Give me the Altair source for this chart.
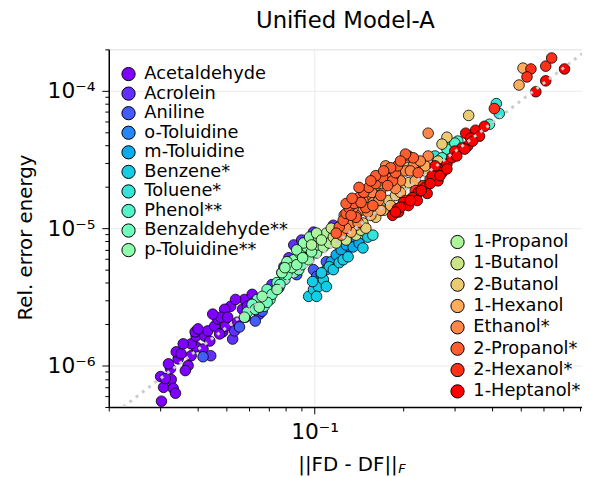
import altair as alt
import pandas as pd

# ---------------- categories / colours ----------------
molecules_left = ["Acetaldehyde", "Acrolein", "Aniline", "o-Toluidine", "m-Toluidine",
                  "Benzene*", "Toluene*", "Phenol**", "Benzaldehyde**", "p-Toluidine**"]
colors_left = ["#8000ff", "#622ffe", "#445cfb", "#2686f5", "#08acee",
               "#16cce4", "#34e4d9", "#52f5cb", "#70febc", "#8efeac"]
molecules_right = ["1-Propanol", "1-Butanol", "2-Butanol", "1-Hexanol",
                   "Ethanol*", "2-Propanol*", "2-Hexanol*", "1-Heptanol*"]
colors_right = ["#acf59a", "#cae486", "#e8cb72", "#ffac5c",
                "#ff8646", "#ff5c2f", "#ff2f18", "#ff0000"]

# ---------------- data ----------------
acetaldehyde_x = [0.0302, 0.0300, 0.0307, 0.0326, 0.0331, 0.0337, 0.0324, 0.0344, 0.0339, 0.0352, 0.0372, 0.0364, 0.0381, 0.0396, 0.0381, 0.0396, 0.0393, 0.0424, 0.0441, 0.0418, 0.0434, 0.0458, 0.0469, 0.0488, 0.0499, 0.0476, 0.0519, 0.0495, 0.0480, 0.0547, 0.0578, 0.0569, 0.0591, 0.0614, 0.0624, 0.0311, 0.0402, 0.0451, 0.0358, 0.0319, 0.0539, 0.0507]
acetaldehyde_y = [5.51e-7, 8.33e-7, 6.95e-7, 7.92e-7, 6.84e-7, 6.30e-7, 9.52e-7, 1.12e-6, 1.26e-6, 1.22e-6, 1.00e-6, 9.20e-7, 1.18e-6, 1.37e-6, 1.44e-6, 1.64e-6, 1.76e-6, 1.64e-6, 1.51e-6, 1.32e-6, 1.79e-6, 1.94e-6, 2.18e-6, 1.76e-6, 1.94e-6, 1.70e-6, 2.70e-6, 2.57e-6, 2.25e-6, 2.07e-6, 3.03e-6, 2.57e-6, 2.70e-6, 3.30e-6, 2.89e-6, 8.05e-7, 1.85e-6, 2.37e-6, 1.44e-6, 1.03e-6, 3.03e-6, 2.25e-6]

acrolein_x = [0.0444, 0.0527, 0.0535, 0.0582, 0.0649, 0.0690, 0.0717, 0.0775, 0.0787, 0.0818, 0.0850, 0.0870, 0.0962, 0.0992, 0.1158, 0.0904]
acrolein_y = [1.18e-6, 1.56e-6, 1.79e-6, 2.25e-6, 2.37e-6, 3.03e-6, 3.89e-6, 4.74e-6, 5.24e-6, 6.09e-6, 7.55e-6, 6.09e-6, 6.95e-6, 9.36e-6, 1.05e-5, 8.20e-6]

aniline_x = [0.0418, 0.0556, 0.0629, 0.0664, 0.0757, 0.0870, 0.0992, 0.1016, 0.1097, 0.1280]
aniline_y = [1.16e-6, 1.91e-6, 2.11e-6, 2.49e-6, 3.70e-6, 4.59e-6, 4.99e-6, 4.44e-6, 5.70e-6, 6.60e-6]

o_toluidine_x = [0.1232, 0.1280, 0.1331, 0.1383, 0.1185]
o_toluidine_y = [6.09e-6, 6.73e-6, 7.55e-6, 8.20e-6, 5.70e-6]

m_toluidine_x = [0.1055, 0.1097, 0.1140, 0.1185, 0.1232, 0.1280, 0.1352, 0.1416]
m_toluidine_y = [4.59e-6, 4.99e-6, 5.70e-6, 6.39e-6, 6.95e-6, 7.55e-6, 7.30e-6, 7.80e-6]

benzene_x = [0.0955, 0.0992, 0.1031, 0.1071, 0.1097, 0.1016, 0.1122, 0.1055, 0.1158, 0.1213, 0.1251, 0.1300, 0.0985, 0.1460, 0.1517]
benzene_y = [3.19e-6, 3.58e-6, 3.76e-6, 4.23e-6, 3.76e-6, 3.19e-6, 5.24e-6, 4.74e-6, 4.99e-6, 5.61e-6, 5.89e-6, 6.19e-6, 4.09e-6, 7.18e-6, 8.61e-6]

toluene_x = [0.4145, 0.4242, 0.1578, 0.2567, 0.2883]
toluene_y = [8.06e-5, 6.83e-5, 8.90e-6, 3.35e-5, 3.96e-5]

phenol_x = [0.3927, 0.3067, 0.2816, 0.2996, 0.2710]
phenol_y = [5.70e-5, 4.30e-5, 3.76e-5, 4.16e-5, 3.25e-5]

benzaldehyde_x = [0.0639, 0.0690, 0.0746, 0.0591, 0.0674, 0.0706, 0.0793, 0.0850, 0.0884, 0.0904, 0.0614, 0.0717, 0.0763, 0.0690, 0.0629, 0.0806]
benzaldehyde_y = [3.03e-6, 3.58e-6, 4.02e-6, 2.45e-6, 2.70e-6, 3.03e-6, 4.23e-6, 4.74e-6, 4.99e-6, 5.42e-6, 2.79e-6, 3.30e-6, 3.89e-6, 2.89e-6, 2.57e-6, 4.59e-6]

p_toluidine_x = [0.0578, 0.0649, 0.0664, 0.0775, 0.0824, 0.0850, 0.0890, 0.0940, 0.0992, 0.0746, 0.0955, 0.1016, 0.0917, 0.0962, 0.0806, 0.0870, 0.0837, 0.0870, 0.0911, 0.0977, 0.1031, 0.1080, 0.1140, 0.0793]
p_toluidine_y = [2.25e-6, 2.66e-6, 3.19e-6, 4.74e-6, 5.24e-6, 5.89e-6, 6.60e-6, 7.30e-6, 8.20e-6, 3.58e-6, 5.89e-6, 6.60e-6, 7.80e-6, 8.61e-6, 5.70e-6, 6.95e-6, 5.16e-6, 5.42e-6, 6.09e-6, 6.73e-6, 7.55e-6, 8.20e-6, 8.76e-6, 5.16e-6]

propanol1_x = [0.1031, 0.1097, 0.1158, 0.1213, 0.1016, 0.1071, 0.1122, 0.0977, 0.1055]
propanol1_y = [8.61e-6, 9.20e-6, 9.67e-6, 1.02e-5, 9.20e-6, 7.30e-6, 7.80e-6, 7.55e-6, 8.20e-6]

butanol1_x = [0.1158, 0.1232, 0.1280, 0.1185, 0.1331, 0.1383, 0.1261, 0.1438, 0.1140]
butanol1_y = [8.61e-6, 9.36e-6, 8.20e-6, 7.80e-6, 1.00e-5, 8.90e-6, 1.05e-5, 9.67e-6, 1.00e-5]

butanol2_x = [0.3338, 0.2816, 0.2710, 0.2627, 0.2067, 0.2233, 0.1717, 0.1785, 0.2083, 0.1614, 0.1460, 0.1884, 0.1494, 0.1958, 0.2376]
butanol2_y = [6.61e-5, 4.59e-5, 4.09e-5, 3.08e-5, 2.75e-5, 2.84e-5, 1.35e-5, 1.59e-5, 2.14e-5, 1.20e-5, 1.09e-5, 1.73e-5, 1.00e-5, 1.94e-5, 2.61e-5]

hexanol1_x = [0.5106, 0.4951, 0.1383, 0.1553, 0.1813, 0.1958, 0.2199, 0.2376, 0.1678, 0.1331]
hexanol1_y = [1.46e-4, 1.10e-4, 1.05e-5, 1.24e-5, 1.46e-5, 1.82e-5, 2.21e-5, 2.84e-5, 1.35e-5, 9.36e-6]

ethanol_x = [0.2432, 0.2432, 0.2165, 0.1785, 0.1678, 0.1553, 0.1438, 0.1331, 0.1744, 0.1958, 0.1232, 0.1494, 0.1614, 0.1383, 0.1855, 0.2036, 0.1280, 0.1261, 0.1352, 0.1460, 0.1565, 0.1691, 0.1813, 0.1652, 0.1517, 0.1405, 0.1884, 0.2116, 0.2286]
ethanol_y = [4.91e-5, 3.35e-5, 2.84e-5, 2.53e-5, 1.88e-5, 1.59e-5, 1.35e-5, 1.10e-5, 2.84e-5, 2.21e-5, 8.90e-6, 1.73e-5, 2.04e-5, 1.24e-5, 2.41e-5, 2.61e-5, 1.00e-5, 1.24e-5, 1.41e-5, 1.59e-5, 1.82e-5, 2.11e-5, 2.29e-5, 1.59e-5, 1.31e-5, 1.10e-5, 1.94e-5, 2.61e-5, 3.08e-5]

propanol2_x = [0.1213, 0.1251, 0.1280, 0.1310, 0.1362, 0.1416, 0.1471, 0.1529, 0.1614, 0.1704, 0.1841, 0.1884, 0.2083, 0.2165, 0.2250, 0.1383, 0.1494, 0.1578, 0.1185, 0.1438, 0.1331, 0.1678, 0.1771, 0.1914, 0.1614, 0.1280, 0.1416, 0.1553, 0.1813, 0.2036, 0.1958, 0.1717, 0.1341]
propanol2_y = [1.02e-5, 1.14e-5, 1.28e-5, 1.41e-5, 1.51e-5, 1.67e-5, 1.82e-5, 1.98e-5, 2.11e-5, 2.33e-5, 2.21e-5, 2.53e-5, 3.35e-5, 3.25e-5, 2.53e-5, 1.20e-5, 1.41e-5, 1.46e-5, 9.20e-6, 1.54e-5, 1.24e-5, 1.73e-5, 2.04e-5, 2.84e-5, 2.41e-5, 1.51e-5, 1.98e-5, 2.21e-5, 2.75e-5, 3.46e-5, 3.08e-5, 2.61e-5, 1.65e-5]

hexanol2_x = [0.5433, 0.5268, 0.6100, 0.6389, 0.4081, 0.2036, 0.2199, 0.2470, 0.2668, 0.2339]
hexanol2_y = [1.44e-4, 1.26e-4, 1.51e-4, 1.73e-4, 7.42e-5, 1.59e-5, 1.88e-5, 2.29e-5, 2.70e-5, 2.04e-5]

heptanol1_x = [0.7065, 0.6100, 0.5646, 0.3524, 0.3262, 0.3390, 0.3312, 0.3163, 0.2710, 0.2816, 0.2928, 0.2627, 0.2508, 0.2376, 0.2250, 0.2149, 0.2004, 0.1914, 0.1841, 0.2413, 0.2233, 0.2083, 0.1929, 0.2996, 0.3635, 0.3778, 0.1958, 0.2116, 0.2304, 0.2470, 0.2668, 0.2816, 0.3042, 0.3237, 0.3443, 0.1884, 0.2567]
heptanol1_y = [1.44e-4, 1.18e-4, 9.83e-5, 5.16e-5, 4.91e-5, 4.52e-5, 3.96e-5, 3.83e-5, 2.53e-5, 2.93e-5, 3.25e-5, 2.21e-5, 2.41e-5, 1.98e-5, 1.82e-5, 1.67e-5, 1.54e-5, 1.39e-5, 1.24e-5, 1.79e-5, 1.59e-5, 1.46e-5, 1.31e-5, 3.64e-5, 4.67e-5, 5.51e-5, 1.42e-5, 1.59e-5, 1.88e-5, 2.11e-5, 2.41e-5, 2.70e-5, 3.35e-5, 3.76e-5, 4.30e-5, 1.31e-5, 2.84e-5]

# dotted reference line (two end points)
line_x = [0.0224, 0.81]
line_y = [5.0e-7, 1.86e-4]

# axis ticks
x_tick_values = [0.02, 0.03, 0.04, 0.05, 0.06, 0.07, 0.08, 0.09,
                 0.1, 0.2, 0.3, 0.4, 0.5, 0.6, 0.7, 0.8]
y_tick_values = [5e-7, 6e-7, 7e-7, 8e-7, 9e-7,
                 1e-6, 2e-6, 3e-6, 4e-6, 5e-6, 6e-6, 7e-6, 8e-6, 9e-6,
                 1e-5, 2e-5, 3e-5, 4e-5, 5e-5, 6e-5, 7e-5, 8e-5, 9e-5,
                 1e-4, 2e-4]
x_decade_labels = {-1: "10⁻¹"}
y_decade_labels = {-4: "10⁻⁴", -5: "10⁻⁵", -6: "10⁻⁶"}

# ---------------- build tables ----------------
left_series = [acetaldehyde_x, acrolein_x, aniline_x, o_toluidine_x, m_toluidine_x,
               benzene_x, toluene_x, phenol_x, benzaldehyde_x, p_toluidine_x]
left_series_y = [acetaldehyde_y, acrolein_y, aniline_y, o_toluidine_y, m_toluidine_y,
                 benzene_y, toluene_y, phenol_y, benzaldehyde_y, p_toluidine_y]
right_series = [propanol1_x, butanol1_x, butanol2_x, hexanol1_x, ethanol_x,
                propanol2_x, hexanol2_x, heptanol1_x]
right_series_y = [propanol1_y, butanol1_y, butanol2_y, hexanol1_y, ethanol_y,
                  propanol2_y, hexanol2_y, heptanol1_y]


def table(names, xs_list, ys_list):
    rows = []
    for k, (name, xs, ys) in enumerate(zip(names, xs_list, ys_list)):
        for a, b in zip(xs, ys):
            rows.append({"molecule": name, "order": k, "x": a, "y": b})
    return pd.DataFrame(rows)


df_left = table(molecules_left, left_series, left_series_y)
df_right = table(molecules_right, right_series, right_series_y)
df_line = pd.DataFrame({"x": line_x, "y": line_y})

FONT = "DejaVu Sans"
is_major = "abs(log(datum.value)/LN10 - round(log(datum.value)/LN10)) < 0.001"
expo = "round(log(datum.value)/LN10)"


def label_expr(mapping):
    expr = "''"
    for e, txt in mapping.items():
        expr = f"({expo} == {e} ? '{txt}' : {expr})"
    return f"{is_major} ? {expr} : ''"


tick_size = {"condition": {"test": is_major, "value": 7}, "value": 4}
grid_op = {"condition": {"test": is_major, "value": 1}, "value": 0}

x_axis = alt.Axis(values=x_tick_values, labelExpr=label_expr(x_decade_labels),
                  tickSize=tick_size, tickColor="black", tickWidth=1,
                  grid=True, gridColor="#ebebeb", gridOpacity=grid_op,
                  domainColor="black", domainWidth=1.5,
                  labelFont=FONT, labelFontSize=22, labelColor="black",
                  labelOverlap=False, labelFlush=False, labelPadding=8,
                  title="||FD - DF||", titleFont=FONT, titleFontSize=20,
                  titleFontWeight="normal", titleColor="black",
                  titleX=292, titleY=64, titleAlign="right",
                  titleBaseline="alphabetic")
y_axis = alt.Axis(values=y_tick_values, labelExpr=label_expr(y_decade_labels),
                  tickSize=tick_size, tickColor="black", tickWidth=1,
                  grid=True, gridColor="#ebebeb", gridOpacity=grid_op,
                  domainColor="black", domainWidth=1.5,
                  labelFont=FONT, labelFontSize=22, labelColor="black",
                  labelOverlap=False, labelFlush=False, labelPadding=7,
                  title="Rel. error energy", titleFont=FONT, titleFontSize=20,
                  titleFontWeight="normal", titleColor="black",
                  titleX=-84, titleY=190, titleAlign="center",
                  titleBaseline="middle", titleAngle=-90)

x_scale = alt.Scale(type="log", domain=[0.02, 0.81], nice=False)
y_scale = alt.Scale(type="log", domain=[5e-7, 2e-4], nice=False)

X = alt.X("x:Q", scale=x_scale, axis=x_axis)
Y = alt.Y("y:Q", scale=y_scale, axis=y_axis)


def legend(x, y, row_pad):
    return alt.Legend(title=None, orient="none", legendX=x, legendY=y,
                      symbolType="circle", symbolSize=180,
                      symbolStrokeColor="black", symbolStrokeWidth=1,
                      labelFont=FONT, labelFontSize=18, labelColor="black",
                      labelLimit=0, labelOffset=7, rowPadding=row_pad, padding=0)


pts_left = alt.Chart(df_left).mark_circle(size=115, opacity=1, stroke="black",
                                          strokeWidth=0.8).encode(
    x=X, y=Y,
    fill=alt.Fill("molecule:N", scale=alt.Scale(domain=molecules_left, range=colors_left),
                  legend=legend(11, 16, 1.8)),
    order=alt.Order("order:Q"),
)

pts_right = alt.Chart(df_right).mark_circle(size=115, opacity=1, stroke="black",
                                            strokeWidth=0.8).encode(
    x=X, y=Y,
    fill=alt.Fill("molecule:N", scale=alt.Scale(domain=molecules_right, range=colors_right),
                  legend=legend(344, 186, 3.6)),
    order=alt.Order("order:Q"),
)

ref_line = alt.Chart(df_line).mark_line(color="#cccccc", strokeWidth=3,
                                        strokeDash=[3, 5], clip=True).encode(x=X, y=Y)

sub_f = alt.Chart(pd.DataFrame({"t": ["F"]})).mark_text(
    font=FONT, fontSize=13, fontStyle="italic", align="left",
    baseline="alphabetic", color="black").encode(
    text="t:N", x=alt.value(293), y=alt.value(429))

chart = alt.layer(pts_left, pts_right, ref_line, sub_f).resolve_scale(
    fill="independent"
).properties(
    width=479, height=362,
    title=alt.TitleParams("Unified Model-A", font=FONT, fontSize=23,
                          fontWeight="normal", color="black", anchor="middle",
                          offset=6),
    autosize=alt.AutoSizeParams(type="none"),
    padding={"left": 102, "top": 39, "right": 0, "bottom": 68},
).configure_view(stroke="black", strokeWidth=1.5).configure(font=FONT)

chart.save("out.html", embed_options={"renderer": "svg", "actions": False})
